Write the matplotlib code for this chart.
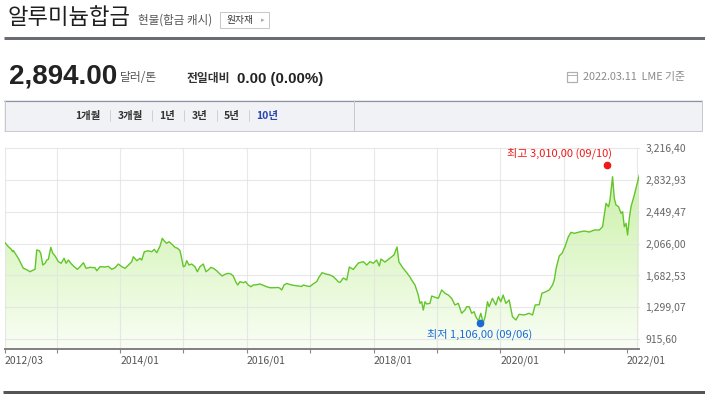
#!/usr/bin/env python3
"""Aluminium alloy 10-year price chart (LME cash), naver-finance style."""

import numpy as np
import pandas as pd
import matplotlib

matplotlib.use("Agg")
import matplotlib.pyplot as plt
from matplotlib.colors import LinearSegmentedColormap
from matplotlib.lines import Line2D
from matplotlib.patches import Rectangle

W, H = 705, 397

# decimal-year position and price (USD / ton)
YEARS = [
    2012.184, 2012.236, 2012.279, 2012.306, 2012.315, 2012.394, 2012.473, 2012.515, 2012.579, 2012.631,
    2012.657, 2012.684, 2012.725, 2012.747, 2012.779, 2012.815, 2012.842, 2012.867, 2012.905, 2012.937,
    2012.973, 2013.025, 2013.068, 2013.115, 2013.147, 2013.183, 2013.221, 2013.262, 2013.325, 2013.368,
    2013.420, 2013.462, 2013.525, 2013.604, 2013.631, 2013.683, 2013.762, 2013.814, 2013.868, 2013.920,
    2013.972, 2014.026, 2014.078, 2014.130, 2014.184, 2014.209, 2014.263, 2014.314, 2014.341, 2014.382,
    2014.445, 2014.499, 2014.540, 2014.578, 2014.630, 2014.666, 2014.698, 2014.736, 2014.772, 2014.815,
    2014.867, 2014.909, 2014.946, 2014.972, 2014.998, 2015.024, 2015.051, 2015.088, 2015.130, 2015.182,
    2015.219, 2015.261, 2015.313, 2015.356, 2015.392, 2015.435, 2015.471, 2015.525, 2015.577, 2015.613,
    2015.656, 2015.708, 2015.751, 2015.787, 2015.825, 2015.857, 2015.893, 2015.945, 2015.982, 2016.023,
    2016.066, 2016.102, 2016.156, 2016.208, 2016.260, 2016.314, 2016.366, 2016.418, 2016.497, 2016.524,
    2016.551, 2016.587, 2016.629, 2016.708, 2016.787, 2016.866, 2016.891, 2016.945, 2016.997, 2017.044,
    2017.103, 2017.139, 2017.187, 2017.250, 2017.313, 2017.365, 2017.418, 2017.447, 2017.471, 2017.523,
    2017.576, 2017.617, 2017.680, 2017.759, 2017.838, 2017.892, 2017.944, 2017.996, 2018.049, 2018.091,
    2018.117, 2018.180, 2018.259, 2018.322, 2018.370, 2018.401, 2018.464, 2018.527, 2018.575, 2018.602,
    2018.654, 2018.706, 2018.733, 2018.760, 2018.785, 2018.812, 2018.838, 2018.891, 2018.918, 2018.970,
    2019.022, 2019.076, 2019.128, 2019.180, 2019.233, 2019.285, 2019.338, 2019.391, 2019.443, 2019.470,
    2019.511, 2019.549, 2019.588, 2019.615, 2019.656, 2019.694, 2019.731, 2019.762, 2019.799, 2019.825,
    2019.877, 2019.931, 2019.972, 2020.010, 2020.046, 2020.089, 2020.141, 2020.193, 2020.247, 2020.298,
    2020.377, 2020.456, 2020.509, 2020.551, 2020.614, 2020.657, 2020.720, 2020.772, 2020.824, 2020.851,
    2020.882, 2020.930, 2020.977, 2021.024, 2021.072, 2021.115, 2021.167, 2021.246, 2021.325, 2021.404,
    2021.483, 2021.562, 2021.614, 2021.668, 2021.709, 2021.731, 2021.772, 2021.799, 2021.826, 2021.867,
    2021.905, 2021.930, 2021.957, 2021.984, 2022.009, 2022.036, 2022.063, 2022.115, 2022.194,
]
PRICES = [
    2078, 2030, 2002, 1969, 1984, 1890, 1769, 1757, 1728, 1749,
    1757, 1990, 1981, 1950, 1809, 1830, 1869, 1878, 2022, 1950,
    1918, 1849, 1830, 1890, 1830, 1869, 1830, 1797, 1757, 1789,
    1837, 1769, 1781, 1776, 1740, 1789, 1785, 1792, 1757, 1776,
    1821, 1789, 1769, 1809, 1849, 1909, 1861, 1890, 1869, 1969,
    1981, 1969, 1998, 1957, 2038, 2131, 2098, 2071, 2090, 2062,
    2022, 2010, 1981, 1890, 1789, 1797, 1861, 1809, 1821, 1789,
    1728, 1789, 1821, 1728, 1749, 1781, 1769, 1740, 1700, 1676,
    1697, 1709, 1700, 1676, 1608, 1568, 1608, 1596, 1608, 1568,
    1547, 1568, 1571, 1580, 1564, 1547, 1535, 1535, 1538, 1528,
    1508, 1568, 1586, 1568, 1558, 1550, 1568, 1556, 1550, 1580,
    1610, 1664, 1716, 1700, 1688, 1668, 1628, 1604, 1600, 1652,
    1628, 1785, 1755, 1833, 1849, 1809, 1849, 1830, 1869, 1797,
    1881, 1845, 1893, 1930, 2026, 1845, 1773, 1713, 1664, 1628,
    1568, 1447, 1347, 1366, 1266, 1366, 1339, 1347, 1435, 1420,
    1407, 1508, 1468, 1447, 1407, 1327, 1347, 1227, 1266, 1306,
    1306, 1227, 1246, 1186, 1134, 1227, 1110, 1186, 1366, 1306,
    1407, 1327, 1427, 1366, 1447, 1347, 1387, 1186, 1146, 1214,
    1206, 1227, 1206, 1327, 1330, 1468, 1487, 1508, 1568, 1628,
    1773, 1918, 1954, 2038, 2147, 2203, 2191, 2207, 2219, 2207,
    2231, 2231, 2271, 2553, 2512, 2593, 2874, 2613, 2533, 2512,
    2433, 2452, 2271, 2312, 2171, 2372, 2512, 2653, 2894,
]

Y_TICKS = [915.60, 1299.07, 1682.53, 2066.00, 2449.47, 2832.93, 3216.40]
Y_TICK_LABELS = ["915,60", "1,299,07", "1,682,53", "2,066,00", "2,449,47", "2,832,93", "3,216,40"]
TICK_YEARS = list(range(2013, 2023))
X_TICK_LABELS = ["2012/03", "", "2014/01", "", "2016/01", "", "2018/01", "", "2020/01", "", "2022/01"]

HIGH_DATE, HIGH_VALUE, HIGH_TEXT = "2021-09-10", 3010.0, "최고 3,010,00 (09/10)"
LOW_DATE, LOW_VALUE, LOW_TEXT = "2019-09-06", 1106.0, "최저 1,106,00 (09/06)"

Y_BOTTOM = 796.0

# colours
TEXT = "#222222"
SUB = "#666666"
LINE = "#62c62a"
FILL_TOP = "#c4ef9c"
FILL_BOTTOM = "#f9fef5"
GRID = "#e4e4e4"
RED = "#f01818"
BLUE = "#1a6ad8"

plt.rcParams["font.family"] = ["Noto Sans CJK KR", "DejaVu Sans"]


def fx(px):
    return px / W


def fy(py):
    return 1 - py / H


def to_date(y):
    year = int(y)
    start = pd.Timestamp(year=year, month=1, day=1)
    end = pd.Timestamp(year=year + 1, month=1, day=1)
    return start + (end - start) * (y - year)


def hline(fig, x0, x1, y, color, lw_px):
    fig.add_artist(Line2D([fx(x0), fx(x1)], [fy(y), fy(y)], transform=fig.transFigure,
                          color=color, lw=lw_px * 0.72, solid_capstyle="butt"))


def vline(fig, x, y0, y1, color, lw_px):
    fig.add_artist(Line2D([fx(x), fx(x)], [fy(y0), fy(y1)], transform=fig.transFigure,
                          color=color, lw=lw_px * 0.72, solid_capstyle="butt"))


def header(fig):
    fig.text(fx(8), fy(17), "알루미늄합금", fontsize=16, color="#1e1e1e", va="center", ha="left")
    fig.text(fx(138), fy(20), "현물(합금 캐시)", fontsize=8.3, color="#555555", va="center", ha="left")
    fig.add_artist(Rectangle((fx(220), fy(28.3)), fx(269) - fx(220), 15.8 / H, transform=fig.transFigure,
                             facecolor="white", edgecolor="#c8c8c8", lw=0.72))
    fig.text(fx(226.5), fy(20.3), "원자재", fontsize=7, color="#333333", va="center", ha="left")
    fig.text(fx(263), fy(20.3), "▸", fontsize=5, color="#aaaaaa", va="center", ha="center")
    hline(fig, 4, 705, 37.5, "#696c73", 3)

    fig.text(fx(9), fy(83), "2,894.00", fontsize=20, fontweight="bold", color=TEXT,
             family="Liberation Sans", va="baseline", ha="left")
    fig.text(fx(120), fy(81), "달러/톤", fontsize=8.5, color="#555555", va="baseline", ha="left")
    fig.text(fx(187), fy(82), "전일대비", fontsize=8.5, fontweight="bold", color="#333333",
             va="baseline", ha="left")
    fig.text(fx(237), fy(82.5), "0.00 (0.00%)", fontsize=10.8, fontweight="bold", color=TEXT,
             family="Liberation Sans", va="baseline", ha="left")

    # small calendar icon + date stamp
    fig.add_artist(Rectangle((fx(567), fy(82)), 10 / W, 10 / H, transform=fig.transFigure,
                             facecolor="white", edgecolor="#b0b0b0", lw=0.9))
    hline(fig, 567, 577, 74.5, "#b0b0b0", 1)
    fig.text(fx(685), fy(77), "2022.03.11  LME 기준", fontsize=7.8, color="#8a8a8a", va="center", ha="right")

    # period tabs
    fig.add_artist(Rectangle((fx(4), fy(131)), fx(702) - fx(4), 31 / H, transform=fig.transFigure,
                             facecolor="#f1f2f6", edgecolor="none"))
    hline(fig, 4, 702, 100.5, "#8e92a0", 1.2)
    hline(fig, 4, 702, 131, "#c9c9cd", 1)
    vline(fig, 4.5, 100, 131, "#c9c9cd", 1)
    vline(fig, 701.5, 100, 131, "#c9c9cd", 1)
    vline(fig, 354, 100, 131, "#c9c9cd", 1)

    tabs = ["1개월", "3개월", "1년", "3년", "5년", "10년"]
    centers = [88, 130.5, 167.5, 200, 232, 267]
    seps = [110, 152, 184, 216.5, 249]
    for label, cx in zip(tabs, centers):
        color = "#2a46ad" if label == "10년" else "#333333"
        fig.text(fx(cx), fy(115.5), label, fontsize=7.5, fontweight="bold", color=color,
                 va="center", ha="center")
    for sx in seps:
        vline(fig, sx, 110, 121, "#d0d0d4", 1)

    hline(fig, 3, 705, 391.5, "#555555", 3)


def chart(fig):
    dates = pd.to_datetime([to_date(y) for y in YEARS]).to_numpy()
    prices = np.array(PRICES, dtype=float)

    ax = fig.add_axes([fx(5), fy(349), (639.3 - 5) / W, (349 - 148.3) / H])
    ax.set_facecolor("none")

    ax.plot(dates, prices, color=LINE, lw=1.0, zorder=4)
    poly = ax.fill_between(dates, prices, Y_BOTTOM, facecolor="none", edgecolor="none")

    x0 = matplotlib.dates.date2num(dates[0])
    x1 = matplotlib.dates.date2num(dates[-1])
    grad = np.linspace(0, 1, 256).reshape(-1, 1)
    cmap = LinearSegmentedColormap.from_list("fill", [FILL_BOTTOM, FILL_TOP])
    img = ax.imshow(grad, cmap=cmap, origin="lower", aspect="auto",
                    extent=[x0, x1, Y_BOTTOM, Y_TICKS[-1]], zorder=1)
    img.set_clip_path(poly.get_paths()[0], transform=ax.transData)

    ax.set_xlim(dates[0], dates[-1])
    ax.set_ylim(Y_BOTTOM, Y_TICKS[-1])

    # grid
    for v in Y_TICKS:
        ax.axhline(v, color=GRID, lw=0.8, alpha=0.85, zorder=2, clip_on=False)
    xticks = [dates[0]] + [np.datetime64(f"{y}-01-01") for y in TICK_YEARS]
    for t in xticks[:-1]:
        ax.axvline(t, color=GRID, lw=0.8, alpha=0.85, zorder=2)
    ax.plot([0.9959, 0.9959], [0, 1], transform=ax.transAxes, color=GRID, lw=0.8, alpha=0.85, zorder=2)

    for side in ("top", "left", "right"):
        ax.spines[side].set_visible(False)
    ax.spines["bottom"].set_color("#808080")
    ax.spines["bottom"].set_linewidth(1.4)
    ax.spines["bottom"].set_zorder(5)

    ax.set_xticks(xticks, X_TICK_LABELS)
    for lbl in ax.get_xticklabels():
        lbl.set_ha("left")
    ax.tick_params(axis="x", direction="out", length=3, width=0.8, color="#888888",
                   pad=2, labelsize=7.5, labelcolor="#555555")

    ax.yaxis.tick_right()
    ax.set_yticks(Y_TICKS, Y_TICK_LABELS)
    ax.tick_params(axis="y", length=0, pad=4.5, labelsize=7.5, labelcolor=SUB)

    # high / low markers
    hd = np.datetime64(HIGH_DATE)
    ld = np.datetime64(LOW_DATE)
    ax.plot([hd], [HIGH_VALUE], "o", color=RED, ms=4.5, zorder=6, clip_on=False)
    ax.annotate(HIGH_TEXT, xy=(hd, HIGH_VALUE), xytext=(3, 9), textcoords="offset points",
                ha="right", va="center", fontsize=8, color=RED, annotation_clip=False)
    ax.plot([ld], [LOW_VALUE], "o", color=BLUE, ms=4.5, zorder=6, clip_on=False)
    ax.annotate(LOW_TEXT, xy=(ld, LOW_VALUE), xytext=(0, -8), textcoords="offset points",
                ha="center", va="center", fontsize=8, color=BLUE, annotation_clip=False)


def main():
    fig = plt.figure(figsize=(W / 100, H / 100), dpi=100)
    fig.patch.set_facecolor("white")
    header(fig)
    chart(fig)
    fig.savefig("out.png", dpi=100, facecolor="white")
    plt.close(fig)


if __name__ == "__main__":
    main()
